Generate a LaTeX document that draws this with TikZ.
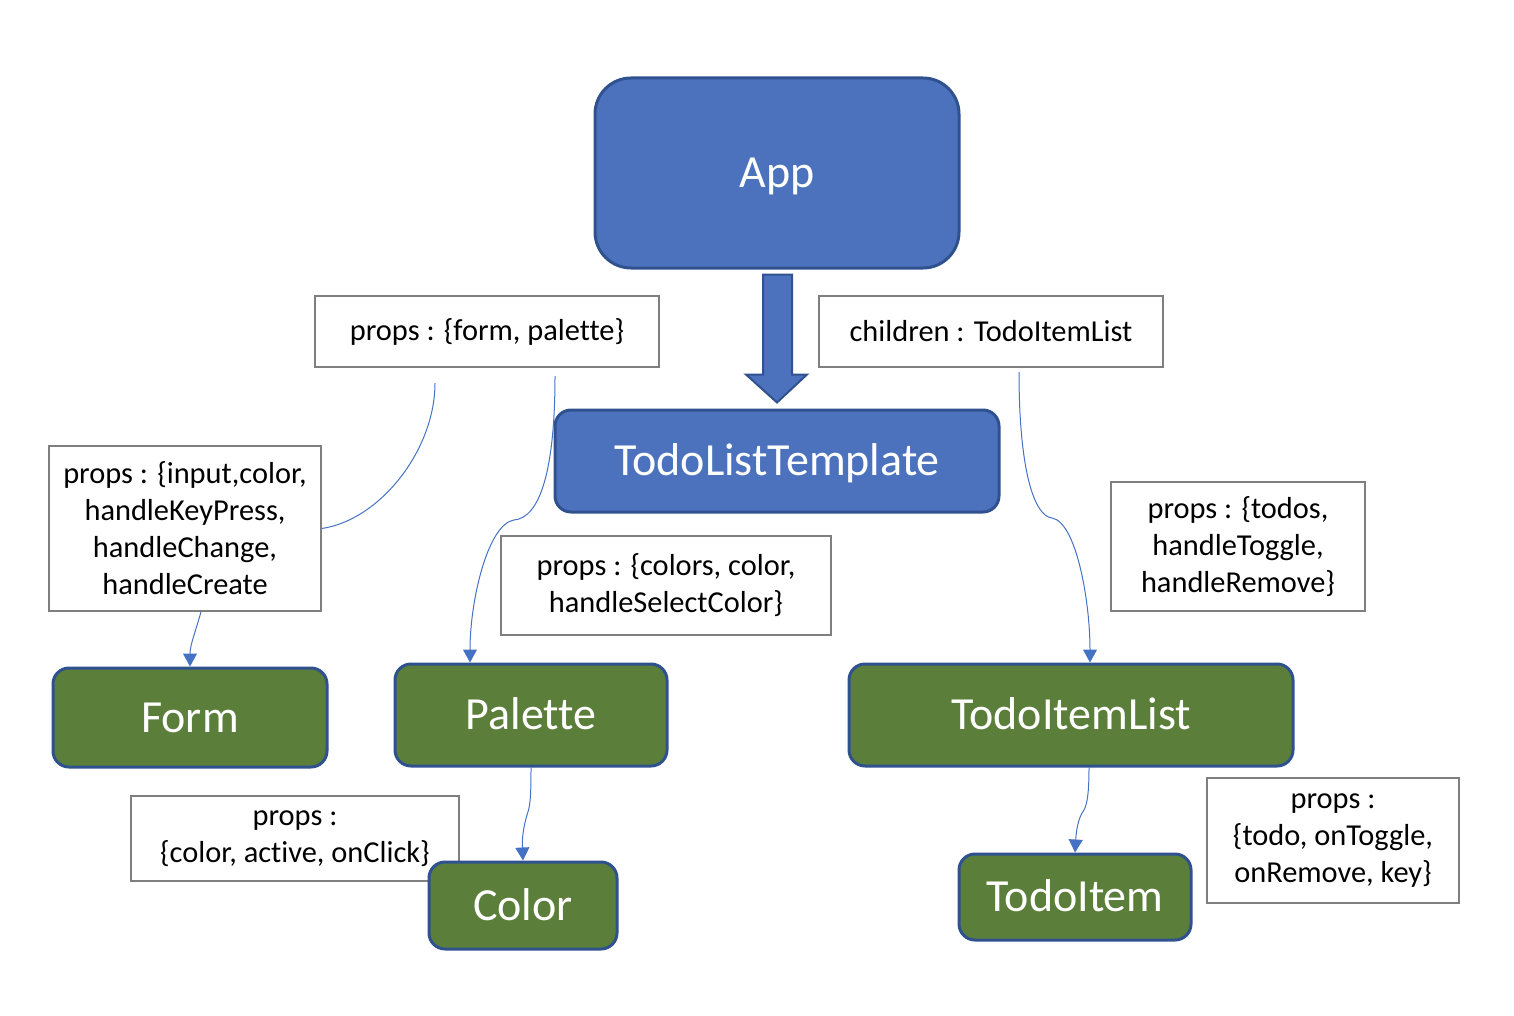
\documentclass[tikz,border=0pt]{standalone}
\usepackage{fontspec}
\setmainfont{Carlito}[Ligatures=NoCommon]
\usetikzlibrary{arrows.meta,calc}
\definecolor{appblue}{HTML}{4C72BE}
\definecolor{darkblue}{HTML}{2F528F}
\definecolor{leafgreen}{HTML}{5B7F3A}
\definecolor{boxgray}{HTML}{7F7F7F}
\definecolor{linkblue}{HTML}{4472C4}
\begin{document}
\begin{tikzpicture}[x=1pt,y=-1pt,
  bluebox/.style={draw=darkblue,line width=3pt,fill=appblue,text=white,inner sep=0pt,
    font=\fontsize{46}{55}\selectfont,text height=37pt,text depth=7.5pt},
  greenbox/.style={draw=darkblue,line width=3pt,fill=leafgreen,text=white,inner sep=0pt,
    rounded corners=16pt,font=\fontsize{46}{55}\selectfont,text height=37pt,text depth=7.5pt},
  propbox/.style={draw=boxgray,line width=1.5pt,fill=white,text=black,inner sep=0pt,
    align=center,font=\fontsize{30.4}{37}\selectfont},
  link/.style={draw=linkblue,line width=1pt},
  linkarrow/.style={link,-{Triangle[width=14pt,length=13pt]}},
  bigarrow/.style={draw=darkblue,line width=2pt,fill=appblue,line join=miter}
]
\useasboundingbox (0,0) rectangle (1514,1016);

% text boxes
\node[propbox,minimum width=344pt,minimum height=71pt] (pfp) at (487,331.5) {props : \{form, palette\}};
\node[propbox,minimum width=344pt,minimum height=71pt] (chl) at (991,331.5) {children : TodoItemList};
\node[propbox,minimum width=272pt,minimum height=165pt] (fp) at (185,528.5) {props : \{input,color,\\handleKeyPress,\\handleChange,\\handleCreate};
\node[propbox,minimum width=330pt,minimum height=99pt] (pp) at (666,585.5) {props : \{colors, color,\\handleSelectColor\}};
\node[propbox,minimum width=254pt,minimum height=129pt] (tp) at (1238,546.5) {props : \{todos,\\handleToggle,\\handleRemove\}};
\node[propbox,minimum width=328pt,minimum height=85pt] (cp) at (295,838.5) {props :\\\{color, active, onClick\}};
\node[propbox,minimum width=252pt,minimum height=125pt] (tip) at (1333,840.5) {props :\\\{todo, onToggle,\\onRemove, key\}};

% component nodes
\node[bluebox,rounded corners=36pt,minimum width=364pt,minimum height=190pt] (app) at (777,173) {App};
\node[bluebox,rounded corners=16pt,minimum width=444pt,minimum height=102pt] (tlt) at (777,461) {TodoListTemplate};
\node[greenbox,minimum width=274pt,minimum height=99pt] (form) at (190,717.5) {Form};
\node[greenbox,minimum width=272pt,minimum height=102pt] (pal) at (531,715) {Palette};
\node[greenbox,minimum width=444pt,minimum height=102pt] (til) at (1071,715) {TodoItemList};
\node[greenbox,minimum width=188pt,minimum height=87pt] (col) at (523,905.5) {Color};
\node[greenbox,minimum width=232pt,minimum height=86pt] (ti) at (1075,897) {TodoItem};

% big block arrow App -> TodoListTemplate
\draw[bigarrow] ($(app.south)+(-14,5)$) -- ($(app.south)+(15,5)$) -- ($(tlt.north)+(15,-34)$)
  -- ($(tlt.north)+(30,-34)$) -- ($(tlt.north)+(0,-6)$) -- ($(tlt.north)+(-31,-34)$)
  -- ($(tlt.north)+(-14,-34)$) -- cycle;

% connectors
\coordinate (c1) at (435,383);
\coordinate (c2) at (555,376);
\coordinate (c3) at (1019,372);
\draw[link] (c1) .. controls (435,450) and (380,520) .. (fp.east);
\draw[linkarrow] ([xshift=16pt]fp.south) .. controls (196,630) and (190,645) .. (form.north);
\draw[linkarrow] (c2) .. controls (555,470) and (540,518) .. (514,520)
  .. controls (488,524) and (470,600) .. ([xshift=-61pt]pal.north);
\draw[linkarrow] (c3) .. controls (1019,470) and (1034,516) .. (1052,518)
  .. controls (1076,522) and (1090,600) .. ([xshift=19pt]til.north);
\draw[linkarrow] (pal.south) .. controls (531,800) and (530,806) .. (527,815)
  .. controls (523,828) and (522,840) .. (col.north);
\draw[linkarrow] ([xshift=18pt]til.south) .. controls (1089,800) and (1086,808) .. (1082,813)
  .. controls (1077,822) and (1076,835) .. (ti.north);
\end{tikzpicture}
\end{document}
